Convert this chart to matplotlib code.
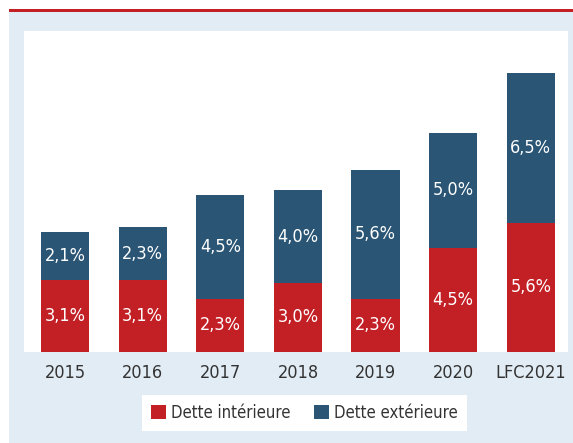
import matplotlib.pyplot as plt
from matplotlib.patches import Rectangle

annees = ["2015", "2016", "2017", "2018", "2019", "2020", "LFC2021"]
dette_interieure = [3.1, 3.1, 2.3, 3.0, 2.3, 4.5, 5.6]
dette_exterieure = [2.1, 2.3, 4.5, 4.0, 5.6, 5.0, 6.5]

rouge = "#c32026"
bleu = "#2a5574"
fond = "#e1ecf5"

plt.rcParams['font.family'] = ['DejaVu Sans']
plt.rcParams['font.stretch'] = 'condensed'

W, H = 573, 443
fig = plt.figure(figsize=(W / 100, H / 100), dpi=100)
fig.patch.set_facecolor("white")

# fond bleu clair + filet rouge en haut
fig.patches.append(Rectangle((9 / W, 0), 1 - 9 / W, (H - 12) / H,
                             transform=fig.transFigure, facecolor=fond,
                             edgecolor="none", zorder=-5))
fig.patches.append(Rectangle((9 / W, (H - 12) / H), 1 - 9 / W, 3 / H,
                             transform=fig.transFigure, facecolor=rouge,
                             edgecolor="none", zorder=-5))

ax = fig.add_axes([24 / W, (H - 352) / H, (568 - 24) / W, (352 - 31) / H])
ax.set_zorder(2)
ax.set_facecolor("white")

x = range(len(annees))
b1 = ax.bar(x, dette_interieure, width=0.62, color=rouge, label="Dette intérieure")
b2 = ax.bar(x, dette_exterieure, width=0.62, bottom=dette_interieure, color=bleu,
            label="Dette extérieure")

for i in x:
    r = dette_interieure[i]
    b = dette_exterieure[i]
    ax.text(i, r / 2, f"{r:.1f}%".replace(".", ","), ha="center", va="center",
            color="white", fontsize=13)
    ax.text(i, r + b / 2, f"{b:.1f}%".replace(".", ","), ha="center", va="center",
            color="white", fontsize=13)

ax.set_xlim(-0.53, 6.48)
ax.set_ylim(0, 13.9)
ax.set_yticks([])
ax.set_xticks(list(x))
ax.set_xticklabels(annees, fontsize=13, color="#333333")
ax.tick_params(axis="x", length=0, pad=9)
for s in ax.spines.values():
    s.set_visible(False)

leg = fig.legend(handles=[b1, b2], loc="center", bbox_to_anchor=(304.5 / W, (H - 413) / H),
                 ncol=2, frameon=True, fancybox=False, fontsize=12, framealpha=1,
                 handlelength=0.9, handleheight=0.9, handletextpad=0.3,
                 columnspacing=1.45, borderpad=0.55, borderaxespad=0,
                 labelcolor="#333333")
leg.get_frame().set_facecolor("white")
leg.get_frame().set_edgecolor("white")
leg.get_frame().set_linewidth(0)
leg.set_zorder(3)

fig.savefig("out.png", dpi=100, facecolor=fig.get_facecolor())
